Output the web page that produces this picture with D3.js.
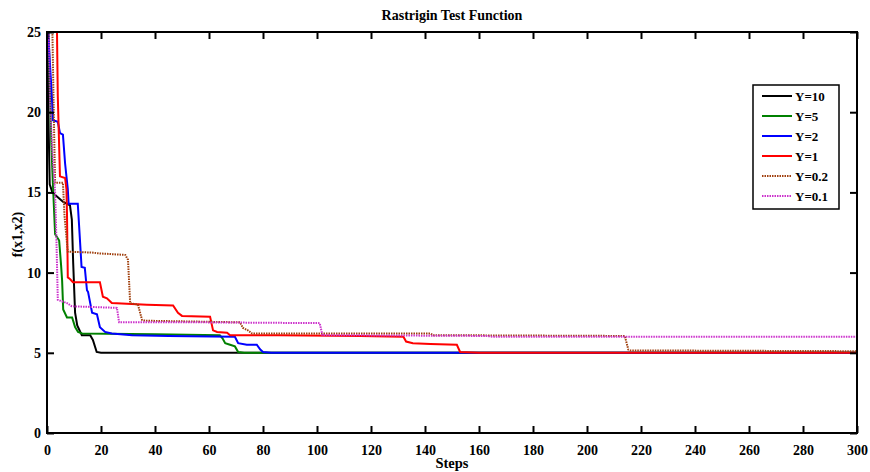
<!DOCTYPE html>
<html>
<head>
<meta charset="utf-8">
<script src="https://cdn.jsdelivr.net/npm/d3@7/dist/d3.min.js"></script>
<style>
  html, body { margin: 0; padding: 0; background: #fff; }
  svg text { font-family: "Times New Roman", "Liberation Serif", Tinos, "DejaVu Serif", serif !important; font-weight: bold; fill: #000; }
</style>
</head>
<body>
<svg id="chart" width="870" height="472"></svg>
<script>
// ---- Data ----
const seriesNames = ["Y=10", "Y=5", "Y=2", "Y=1", "Y=0.2", "Y=0.1"];
const seriesColors = ["#000000", "#008000", "#0000ff", "#ff0000", "#a0400f", "#cc33cc"];
const seriesDashed = [false, false, false, false, true, true];

const dataY10 = [[0,30],[0.5,20],[1,15.5],[2,15.0],[4,14.7],[6,14.4],[8.5,14.2],[9.2,13.3],[9.7,10.6],[10.4,7.5],[11.2,6.7],[12.9,6.1],[16,6.1],[17,5.8],[18.4,5.05],[20,5.0],[300,5.0]];
const dataY5 = [[0,30],[1,22],[1.6,18],[2.2,15.5],[3,12.4],[4.5,12.0],[5.2,10.5],[5.6,9.5],[6,7.7],[7.4,7.2],[9.3,7.2],[10.4,6.6],[11.5,6.3],[13,6.2],[40,6.15],[64,6.1],[65,5.9],[66,5.6],[67.8,5.5],[69.6,5.4],[70.8,5.05],[73,5.0],[300,5.0]];
const dataY2 = [[0,27],[0.4,25],[1.1,23],[1.8,21],[2.2,19.5],[4,19.4],[4.8,18.7],[5.9,18.6],[6.7,16.8],[7.7,15.2],[8,14.3],[11.4,14.3],[12.8,10.35],[14,10.3],[14.8,8.9],[15.2,8.8],[16.7,7.5],[18.5,7.4],[19.6,6.6],[21.5,6.3],[24,6.2],[31.5,6.1],[45,6.05],[69.6,6.0],[70.8,5.6],[74,5.5],[77.7,5.5],[79,5.2],[80,5.05],[83,5.0],[300,5.0]];
const dataY1 = [[0,30],[3.5,28],[3.7,25],[4,21],[4.8,16],[6.7,15.9],[7.2,15.2],[7.4,13.7],[7.7,9.7],[8.5,9.6],[9.6,9.4],[19.6,9.4],[20.7,8.5],[22.2,8.4],[24,8.1],[37,8.0],[46.7,7.95],[48.5,7.5],[50,7.3],[60.4,7.25],[61.5,6.4],[63,6.3],[66.7,6.25],[67.8,6.1],[86,6.1],[116,6.05],[132,6.0],[133,5.7],[135.5,5.6],[142,5.55],[151.8,5.5],[153,5.05],[160,5.0],[300,5.0]];
const dataY02 = [[0,30],[2,25],[2.5,20],[3,15.6],[5.9,15.6],[6.5,13.5],[7.7,11.3],[16.7,11.25],[19,11.2],[29,11.1],[30,10.8],[30.8,8.1],[33.7,8.0],[35.2,7.05],[36.3,7.0],[71.5,6.9],[72.6,6.55],[74.4,6.4],[76,6.2],[142,6.2],[143,6.1],[214,6.05],[215.3,5.2],[216,5.15],[300,5.1]];
const dataY01 = [[0,30],[0.8,24],[1.1,20.8],[2,17.5],[3,15],[3.5,12],[4,8.3],[7.4,8.1],[9.2,7.9],[25.9,7.8],[26.7,6.9],[56.7,6.9],[101,6.85],[102,6.1],[163,6.05],[165,6.0],[300,6.0]];
const seriesData = [dataY10, dataY5, dataY2, dataY1, dataY02, dataY01];

const xTicks = [0,20,40,60,80,100,120,140,160,180,200,220,240,260,280,300];
const yTicks = [0,5,10,15,20,25];
const titleText = "Rastrigin Test Function";
const xLabel = "Steps";
const yLabel = "f(x1,x2)";

// ---- Layout ----
const svg = d3.select("#chart");
const pLeft = 47, pRight = 857, pTop = 32, pBottom = 433;
const x = d3.scaleLinear().domain([0, 300]).range([pLeft, pRight]);
const y = d3.scaleLinear().domain([0, 25]).range([pBottom, pTop]);

svg.append("defs").append("clipPath").attr("id", "plotclip")
  .append("rect").attr("x", pLeft).attr("y", pTop).attr("width", pRight - pLeft).attr("height", pBottom - pTop);

// lines
const line = d3.line().x(d => x(d[0])).y(d => y(d[1]));
const g = svg.append("g").attr("clip-path", "url(#plotclip)");
seriesData.forEach((data, i) => {
  g.append("path")
    .datum(data)
    .attr("d", line)
    .attr("fill", "none")
    .attr("stroke", seriesColors[i])
    .attr("stroke-width", 2)
    .attr("stroke-dasharray", seriesDashed[i] ? "1.5,1" : null);
});

// axes (ticks inward on all four sides)
const tickLen = 7;
const axB = svg.append("g").attr("transform", `translate(0,${pBottom})`)
  .call(d3.axisBottom(x).tickValues(xTicks).tickSize(-tickLen).tickPadding(12).tickSizeOuter(0));
const axT = svg.append("g").attr("transform", `translate(0,${pTop})`)
  .call(d3.axisTop(x).tickValues(xTicks).tickSize(-tickLen).tickFormat("").tickSizeOuter(0));
const axL = svg.append("g").attr("transform", `translate(${pLeft},0)`)
  .call(d3.axisLeft(y).tickValues(yTicks).tickSize(-tickLen).tickPadding(6).tickSizeOuter(0));
const axR = svg.append("g").attr("transform", `translate(${pRight},0)`)
  .call(d3.axisRight(y).tickValues(yTicks).tickSize(-tickLen).tickFormat("").tickSizeOuter(0));
[axB, axT, axL, axR].forEach(a => {
  a.attr("font-family", null).attr("font-size", 14);
  a.select(".domain").remove();
  a.selectAll(".tick line").attr("stroke", "#000").attr("stroke-width", 2);
  a.selectAll("text").attr("font-size", 14);
});

// frame
svg.append("rect").attr("x", pLeft).attr("y", pTop).attr("width", pRight - pLeft).attr("height", pBottom - pTop)
  .attr("fill", "none").attr("stroke", "#000").attr("stroke-width", 2);

// title & labels
svg.append("text").attr("x", (pLeft + pRight) / 2).attr("y", 20).attr("text-anchor", "middle")
  .attr("font-size", 14).text(titleText);
svg.append("text").attr("x", (pLeft + pRight) / 2).attr("y", 468).attr("text-anchor", "middle")
  .attr("font-size", 14.5).text(xLabel);
svg.append("text").attr("transform", `translate(22,${(pTop + pBottom) / 2 + 2}) rotate(-90)`)
  .attr("text-anchor", "middle").attr("font-size", 14).text(yLabel);

// legend
const lg = svg.append("g");
lg.append("rect").attr("x", 753).attr("y", 85).attr("width", 86).attr("height", 124)
  .attr("fill", "#fff").attr("stroke", "#000").attr("stroke-width", 1.5);
seriesNames.forEach((name, i) => {
  const yy = 96 + i * 20;
  lg.append("line").attr("x1", 762).attr("x2", 792).attr("y1", yy).attr("y2", yy)
    .attr("stroke", seriesColors[i]).attr("stroke-width", 2)
    .attr("stroke-dasharray", seriesDashed[i] ? "1.5,1" : null);
  lg.append("text").attr("x", 795).attr("y", yy).attr("dy", "0.35em").attr("font-size", 13).text(name);
});
</script>
</body>
</html>
